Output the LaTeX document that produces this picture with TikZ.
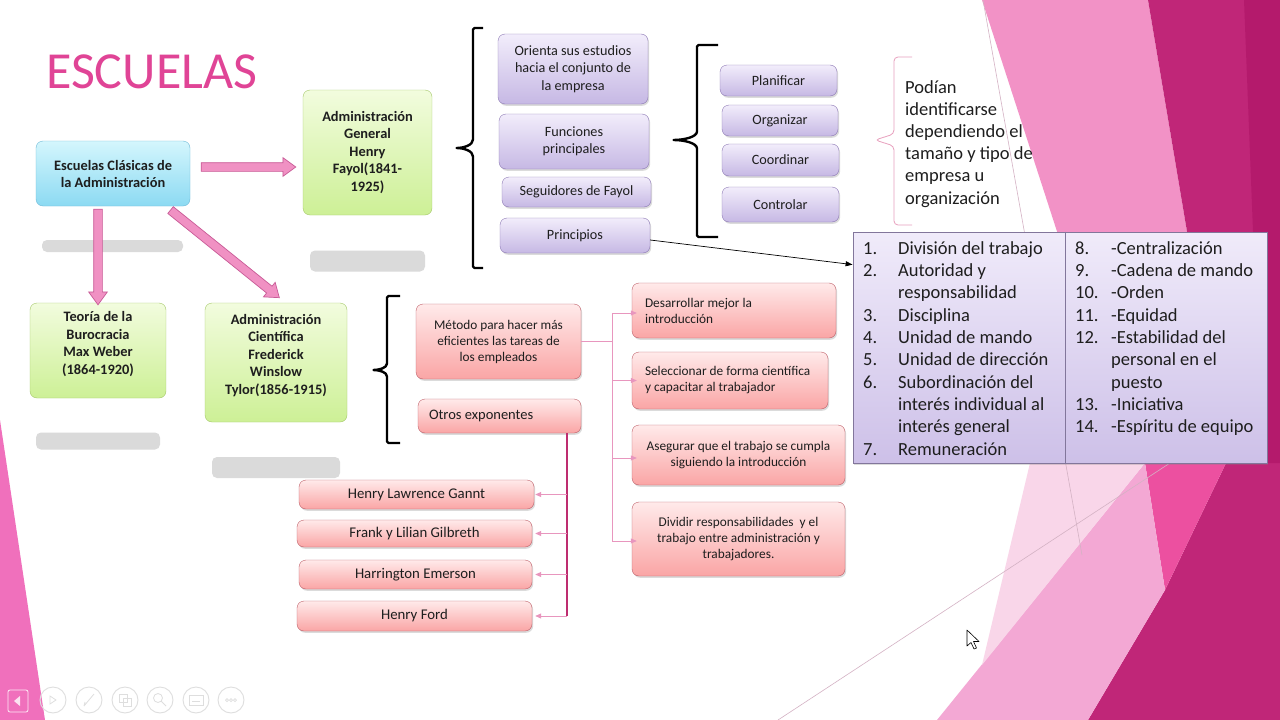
\documentclass[tikz,border=0pt]{standalone}
\usepackage{fontspec}
\setmainfont{Carlito}
\usetikzlibrary{calc,shapes.arrows,shadows,arrows.meta}

\definecolor{titlepink}{RGB}{224,68,150}
\definecolor{textdark}{RGB}{30,30,30}
\definecolor{bluetop}{RGB}{212,246,253}
\definecolor{bluebot}{RGB}{140,218,242}
\definecolor{bluebd}{RGB}{110,185,215}
\definecolor{greentop}{RGB}{242,252,222}
\definecolor{greenbot}{RGB}{205,240,150}
\definecolor{greenbd}{RGB}{165,200,105}
\definecolor{lavtop}{RGB}{242,237,251}
\definecolor{lavbot}{RGB}{198,184,228}
\definecolor{lavbd}{RGB}{140,120,180}
\definecolor{rosetop}{RGB}{255,234,234}
\definecolor{rosebot}{RGB}{250,165,165}
\definecolor{rosebd}{RGB}{190,95,105}
\definecolor{tabtop}{RGB}{240,235,250}
\definecolor{tabbot}{RGB}{205,192,232}
\definecolor{tabbd}{RGB}{130,118,155}
\definecolor{arrowfill}{RGB}{240,145,195}
\definecolor{arrowbd}{RGB}{200,90,150}
\definecolor{linkpink}{RGB}{232,150,190}
\definecolor{trunkmag}{RGB}{190,45,112}
\definecolor{bracepink}{RGB}{232,160,190}
\definecolor{placeholder}{RGB}{218,218,218}
\definecolor{bgdark}{RGB}{192,38,120}
\definecolor{bgdarker}{RGB}{180,26,108}
\definecolor{bglight}{RGB}{242,146,198}
\definecolor{bghot}{RGB}{236,80,160}
\definecolor{bgmid}{RGB}{243,168,212}
\definecolor{bgpale}{RGB}{249,214,233}
\definecolor{bgleft}{RGB}{240,112,188}
\definecolor{bgline}{RGB}{212,178,196}
\definecolor{uigray}{RGB}{222,222,222}

% block arrow between two coordinates: name, tail, tip
\newcommand\blockarrowbetween[3]{%
  \path let \p1=($(#3)-(#2)$) in
    node[blockarrow, minimum height={veclen(\x1,\y1)}, rotate={atan2(\y1,\x1)}]
      (#1) at ($(#2)!0.5!(#3)$) {};}
\newcommand\numcell[1]{\makebox[35pt][l]{#1}}
\newcommand\numcellr[1]{\makebox[36pt][l]{#1}}

\begin{document}
\begin{tikzpicture}[x=1pt,y=-1pt,
  shadowed/.style={drop shadow={shadow xshift=1.2pt,shadow yshift=-1.8pt,opacity=0.28}},
  card/.style={rounded corners=7pt, inner sep=0pt, align=center, text=textdark},
  bluecard/.style={card, draw=bluebd, top color=bluetop, bottom color=bluebot,
    font=\fontsize{14.4}{17}\selectfont\bfseries},
  greencard/.style={card, draw=greenbd, top color=greentop, bottom color=greenbot},
  greentext/.style={align=center, inner sep=0pt, text=textdark,
    font=\fontsize{14.4}{17.5}\selectfont\bfseries},
  lavcard/.style={card, shadowed, draw=lavbd, top color=lavtop, bottom color=lavbot,
    font=\fontsize{14.2}{17.5}\selectfont},
  rosecard/.style={card, shadowed, draw=rosebd, top color=rosetop, bottom color=rosebot,
    font=\fontsize{13.3}{16}\selectfont},
  namecard/.style={rosecard, font=\fontsize{14.8}{16}\selectfont},
  placeholderbar/.style={fill=placeholder, rounded corners=5pt, inner sep=0pt},
  blockarrow/.style={single arrow, draw=arrowbd, fill=arrowfill, line width=0.7pt,
    inner sep=0pt, inner ysep=4pt, single arrow head extend=5pt,
    single arrow tip angle=72},
  curly/.style={line width=2.4pt, line join=round, rounded corners=1.5pt},
  linkline/.style={draw=linkpink, line width=0.8pt},
  linkarrow/.style={linkline, -{Triangle[length=6pt,width=5pt]}},
  uicircle/.style={draw=uigray, line width=0.9pt},
  listtext/.style={anchor=base west, inner sep=0pt, text=textdark,
    font=\fontsize{18.5}{22.35}\selectfont},
]
\useasboundingbox (0,0) rectangle (1280,720);
\fill[white] (0,0) rectangle (1280,720);

% ---- background facets ----
\fill[bgleft] (0,420) -- (45,720) -- (0,720) -- cycle;
\fill[bglight] (982,0) -- (1148,0) -- (1226,463) -- (1132,463) -- cycle;
\fill[bgdark] (1148,0) -- (1280,0) -- (1280,720) -- (1088,720) -- (1165,590) -- (1226,463) -- cycle;
\fill[bgdarker] (1244,0) -- (1280,0) -- (1280,463) -- (1262,463) -- cycle;
\fill[bghot] (1145,463) -- (1226,463) -- (1165,590) -- cycle;
\fill[bgmid] (937,720) -- (1145,463) -- (1165,590) -- (1088,720) -- cycle;
\fill[bgpale] (1030,463) -- (1145,463) -- (982,665) -- cycle;
\draw[bgline, line width=0.6pt] (983,0) -- (1082,555);
\draw[bgline, line width=0.6pt] (778,720) -- (1170,463);

% ---- title ----
\node[anchor=base west, inner sep=0pt, font=\fontsize{52}{52}\selectfont, text=titlepink]
  (title) at (46,88) {ESCUELAS};

% ---- main schools ----
\node[bluecard, minimum width=154pt, minimum height=65pt] (esc) at (113,173.5)
  {Escuelas Clásicas de\\la Administración};
\node[greencard, minimum width=129pt, minimum height=125pt,
  label={[greentext]center:{Administración\\General\\Henry\\Fayol(1841-\\1925)}}]
  (fayol) at (367.5,152.5) {};
\node[greencard, minimum width=136pt, minimum height=95pt,
  label={[greentext, yshift=6.5pt]center:{Teoría de la\\Burocracia\\Max Weber\\(1864-1920)}}]
  (weber) at (98,350.5) {};
\node[greencard, minimum width=142pt, minimum height=119pt,
  label={[greentext, yshift=7pt]center:{Administración\\Científica\\Frederick\\Winslow\\Tylor(1856-1915)}}]
  (taylor) at (276,362.5) {};

% grey caption bars
\node[placeholderbar, minimum width=141pt, minimum height=12pt] (bar1) at (112.5,246) {};
\node[placeholderbar, minimum width=115pt, minimum height=21pt] (bar2) at (367.5,261) {};
\node[placeholderbar, minimum width=124pt, minimum height=17pt] (bar3) at (98,441) {};
\node[placeholderbar, minimum width=128pt, minimum height=21pt] (bar4) at (276,467.5) {};

% block arrows out of the classic schools box
\coordinate (h1) at ($(esc.east)+(8,-6.5)$);
\coordinate (h2) at ($(fayol.west)+(-10,14.5)$);
\coordinate (v1) at ($(esc.south)+(-15,0)$);
\coordinate (v2) at ($(weber.north)+(0,-1)$);
\coordinate (d1) at ($(esc.south east)+(-22,2)$);
\coordinate (d2) at ($(taylor.north)+(1,-7)$);
\blockarrowbetween{arrH}{h1}{h2}
\blockarrowbetween{arrV}{v1}{v2}
\blockarrowbetween{arrD}{d1}{d2}

% ---- Fayol branch ----
\draw[curly] (483,28) -- (473,28) -- (473,138)
  .. controls (473,145) and (464,148) .. (455,148)
  .. controls (464,148) and (473,151) .. (473,158) -- (473,268) -- (483,268);
\node[lavcard, minimum width=150pt, minimum height=70pt] (orienta) at (573,69)
  {Orienta sus estudios\\hacia el conjunto de\\la empresa};
\node[lavcard, minimum width=150pt, minimum height=55pt] (funciones) at (574,141.5)
  {Funciones\\principales};
\node[lavcard, minimum width=149pt, minimum height=30pt] (seguidores) at (576.5,192)
  {Seguidores de Fayol};
\node[lavcard, minimum width=150pt, minimum height=35pt] (principios) at (575,235.5)
  {Principios};

\draw[curly] (718,45) -- (697,45) -- (697,130)
  .. controls (697,137) and (684,140) .. (672,140)
  .. controls (684,140) and (697,143) .. (697,150) -- (697,237) -- (718,237);
\node[lavcard, minimum width=117pt, minimum height=31pt] (planificar) at (778.5,80.5) {Planificar};
\node[lavcard, minimum width=116pt, minimum height=31pt] (organizar) at (780,120.5) {Organizar};
\node[lavcard, minimum width=117pt, minimum height=32pt] (coordinar) at (780.5,160) {Coordinar};
\node[lavcard, minimum width=117pt, minimum height=35pt] (controlar) at (780.5,204.5) {Controlar};

% note with a thin brace
\draw[bracepink, line width=0.8pt, rounded corners=4pt] (912,57) -- (894,57) -- (894,134)
  -- (875,140) -- (894,146) -- (894,225) -- (912,225);
\node[listtext, font=\fontsize{18.5}{22.2}\selectfont] (nota) at (905,93)
  {\begin{tabular}[t]{@{}l@{}}Podían\\identificarse\\dependiendo el\\tamaño y tipo de\\empresa u\\organización\end{tabular}};

% principles table
\node[draw=tabbd, line width=0.8pt, top color=tabtop, bottom color=tabbot, shadowed,
  minimum width=414pt, minimum height=231pt, inner sep=0pt] (tbl) at (1060,347.5) {};
\draw[tabbd, line width=0.8pt] ($(tbl.north west)+(213,0)$) -- ($(tbl.south west)+(213,0)$);
\node[listtext] (colA) at (863,254)
  {\begin{tabular}[t]{@{}l@{}l@{}}
    \numcell{1.} & División del trabajo\\
    \numcell{2.} & Autoridad y\\
                 & responsabilidad\\
    \numcell{3.} & Disciplina\\
    \numcell{4.} & Unidad de mando\\
    \numcell{5.} & Unidad de dirección\\
    \numcell{6.} & Subordinación del\\
                 & interés individual al\\
                 & interés general\\
    \numcell{7.} & Remuneración
  \end{tabular}};
\node[listtext] (colB) at (1075,254)
  {\begin{tabular}[t]{@{}l@{}l@{}}
    \numcellr{8.} & -Centralización\\
    \numcellr{9.} & -Cadena de mando\\
    \numcellr{10.} & -Orden\\
    \numcellr{11.} & -Equidad\\
    \numcellr{12.} & -Estabilidad del\\
                   & personal en el\\
                   & puesto\\
    \numcellr{13.} & -Iniciativa\\
    \numcellr{14.} & -Espíritu de equipo
  \end{tabular}};
\draw[line width=0.7pt, -{Triangle[length=7pt,width=5pt]}]
  ($(principios.east)+(0,4.5)$) -- ($(tbl.north west)+(0,33)$);

% ---- Taylor branch ----
\draw[curly] (400,296) -- (387,296) -- (387,362)
  .. controls (387,368) and (379,370) .. (372,370)
  .. controls (379,370) and (387,372) .. (387,378) -- (387,443) -- (400,443);
\node[rosecard, minimum width=165pt, minimum height=75pt] (metodo) at (498.5,341.5)
  {Método para hacer más\\eficientes las tareas de\\los empleados};
\node[rosecard, font=\fontsize{14.5}{16}\selectfont, align=flush left, text width=141pt,
  inner xsep=11pt, minimum height=34pt] (otros) at (499.5,416) {Otros exponentes};

\node[rosecard, align=flush left, text width=178pt, inner xsep=13pt, minimum height=55pt]
  (desarrollar) at (734,310.5) {Desarrollar mejor la\\introducción};
\node[rosecard, align=flush left, text width=170pt, inner xsep=13pt, minimum height=57pt]
  (seleccionar) at (730,380.5) {Seleccionar de forma científica\\y capacitar al trabajador};
\node[rosecard, minimum width=213pt, minimum height=60pt] (asegurar) at (738.5,455)
  {Asegurar que el trabajo se cumpla\\siguiendo la introducción};
\node[rosecard, minimum width=213pt, minimum height=74pt] (dividir) at (738.5,539)
  {Dividir responsabilidades\ \ y el\\trabajo entre administración y\\trabajadores.};

\coordinate (tj) at ($(metodo.east)+(31,0)$);
\draw[linkline] (metodo.east) -- (tj);
\draw[linkline] ($(tj |- desarrollar.west)+(0,2.5)$) -- ($(tj |- dividir.west)+(0,2)$);
\draw[linkarrow] ($(tj |- desarrollar.west)+(0,2.5)$) -- ($(desarrollar.west)+(5,2.5)$);
\draw[linkarrow] (tj |- seleccionar.west) -- ($(seleccionar.west)+(5,0)$);
\draw[linkarrow] ($(tj |- asegurar.west)+(0,3)$) -- ($(asegurar.west)+(5,3)$);
\draw[linkarrow] ($(tj |- dividir.west)+(0,2)$) -- ($(dividir.west)+(5,2)$);

\node[namecard, minimum width=235pt, minimum height=29pt] (gannt) at (416.5,494.5) {Henry Lawrence Gannt};
\node[namecard, minimum width=235pt, minimum height=27pt] (gilbreth) at (414.5,533.5) {Frank y Lilian Gilbreth};
\node[namecard, minimum width=233pt, minimum height=29pt] (emerson) at (415.5,574.5) {Harrington Emerson};
\node[namecard, minimum width=235pt, minimum height=30pt] (ford) at (414.5,616) {Henry Ford};

\coordinate (oj) at ($(otros.south)+(67.5,0)$);
\draw[trunkmag, line width=1.1pt] (oj) -- (oj |- ford.east);
\draw[linkarrow] (oj |- gannt.east) -- ($(gannt.east)+(1,0)$);
\draw[linkarrow] (oj |- gilbreth.east) -- ($(gilbreth.east)+(3,0)$);
\draw[linkarrow] (oj |- emerson.east) -- ($(emerson.east)+(3,0)$);
\draw[linkarrow] (oj |- ford.east) -- ($(ford.east)+(3,0)$);

% ---- slide-show controls, bottom left ----
\draw[draw=white!85!bgleft, line width=0.8pt, rounded corners=2pt] (8,690) rectangle (28,712);
\fill[white!80!bgleft] (14,701) -- (20,696) -- (20,706) -- cycle;
\foreach \cx in {53,89,125,160,196,231} \draw[uicircle] (\cx,700) circle (13);
\draw[uigray, line width=0.8pt] (50,696) -- (56,700) -- (50,704) -- cycle;
\draw[uigray, line width=0.8pt] (84,706) -- (94,694) (84,706) -- (85,702);
\draw[uigray, line width=0.8pt] (119,694) rectangle (127,702) (123,698) rectangle (131,706);
\draw[uigray, line width=0.8pt] (158,698) circle (4.5) (161,701) -- (166,706);
\draw[uigray, line width=0.8pt] (189,695) rectangle (203,705) (192,701) -- (200,701);
\foreach \dx in {-4,0,4} \draw[uigray, line width=0.7pt] (231+\dx,700) circle (1.5);

% pointer
\draw[black, fill=white, line width=0.6pt, line join=round]
  (967,630) -- (967,646) -- (971,642.5) -- (974,649) -- (976.5,648) -- (973.5,641.5) -- (979,641.5) -- cycle;
\end{tikzpicture}
\end{document}
